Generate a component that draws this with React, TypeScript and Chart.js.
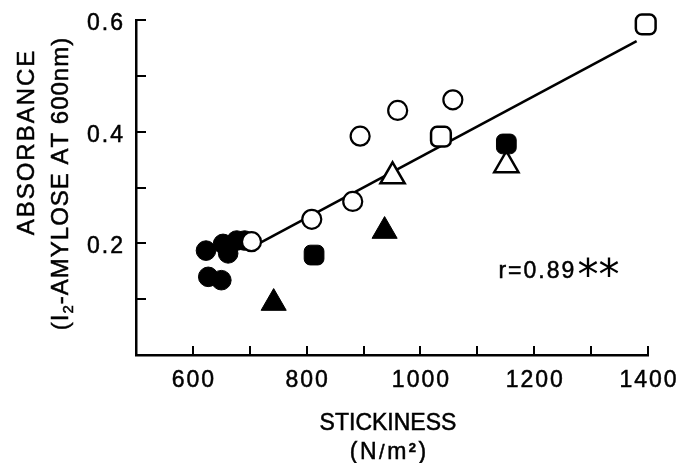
import React, { useEffect, useRef } from "react";
import { Chart, registerables } from "chart.js";

Chart.register(...registerables);

// ---- data (stickiness N/m², absorbance) ----
const filledCircles = [
  { x: 623, y: 0.187 },
  { x: 653, y: 0.199 },
  { x: 677, y: 0.205 },
  { x: 662, y: 0.182 },
  { x: 691, y: 0.205 },
  { x: 627, y: 0.14 },
  { x: 650, y: 0.134 },
];
const openCircles = [
  { x: 703, y: 0.203 },
  { x: 809, y: 0.243 },
  { x: 881, y: 0.275 },
  { x: 894, y: 0.392 },
  { x: 960, y: 0.438 },
  { x: 1057, y: 0.457 },
];
const openSquares = [
  { x: 1036, y: 0.391 },
  { x: 1396, y: 0.592 },
];
const filledSquares = [
  { x: 813, y: 0.179 },
  { x: 1151, y: 0.378 },
];
const openTriangles = [
  { x: 951, y: 0.32 },
  { x: 1151, y: 0.34 },
];
const filledTriangles = [
  { x: 742, y: 0.093 },
  { x: 937, y: 0.222 },
];
const regressionLine = [
  { x: 700, y: 0.191 },
  { x: 1380, y: 0.562 },
];

const xMinorTicks = [600, 700, 800, 900, 1000, 1100, 1200, 1300, 1400];
const xLabelValues = [600, 800, 1000, 1200, 1400];
const yMinorTicks = [0.1, 0.2, 0.3, 0.4, 0.5, 0.6];
const yLabelValues = [0.2, 0.4, 0.6];

const xTitle = "STICKINESS";
const yTitle1 = "ABSORBANCE";
const correlationText = "r=0.89";
const significance = "**";
const correlationPos = { x: 1137, y: 0.138 };

const FONT = "'Liberation Sans', Arial, sans-serif";

type Run = { t: string; font: string; dy: number };

function drawRuns(
  ctx: CanvasRenderingContext2D,
  runs: Run[],
  x: number,
  y: number,
  spacing: number,
  align: "center" | "left" | "right",
  stroke = 0.5
) {
  const items: { ch: string; font: string; dy: number; w: number }[] = [];
  let total = 0;
  for (const r of runs) {
    ctx.font = r.font;
    for (const ch of r.t) {
      const w = ctx.measureText(ch).width;
      items.push({ ch, font: r.font, dy: r.dy, w });
      total += w + spacing;
    }
  }
  total -= spacing;
  let cx = align === "center" ? x - total / 2 : align === "right" ? x - total : x;
  ctx.lineWidth = stroke;
  ctx.strokeStyle = "#000";
  for (const it of items) {
    ctx.font = it.font;
    ctx.fillText(it.ch, cx, y + it.dy);
    if (stroke > 0) ctx.strokeText(it.ch, cx, y + it.dy);
    cx += it.w + spacing;
  }
}

const decorPlugin = {
  id: "decor",
  afterDraw(chart: any) {
    const ctx: CanvasRenderingContext2D = chart.ctx;
    const { x, y } = chart.scales;
    const area = chart.chartArea;
    ctx.save();
    ctx.strokeStyle = "#000";
    ctx.lineWidth = 2;
    // inward tick marks
    for (const v of xMinorTicks) {
      const px = Math.round(x.getPixelForValue(v));
      ctx.beginPath();
      ctx.moveTo(px, area.bottom);
      ctx.lineTo(px, area.bottom - 9);
      ctx.stroke();
    }
    for (const v of yMinorTicks) {
      const py = Math.round(y.getPixelForValue(v));
      ctx.beginPath();
      ctx.moveTo(area.left, py);
      ctx.lineTo(area.left + 10, py);
      ctx.stroke();
    }

    ctx.fillStyle = "#000";
    ctx.textBaseline = "alphabetic";
    const tickFont = `23px ${FONT}`;
    // tick labels
    for (const v of xLabelValues) {
      drawRuns(ctx, [{ t: String(v), font: tickFont, dy: 0 }], x.getPixelForValue(v), area.bottom + 32, 2, "center");
    }
    for (const v of yLabelValues) {
      drawRuns(ctx, [{ t: v.toFixed(1), font: tickFont, dy: 0 }], area.left - 13, y.getPixelForValue(v) + 10, 2, "right");
    }

    const big = `23px ${FONT}`;
    // x title
    drawRuns(ctx, [{ t: xTitle, font: big, dy: 0 }], 388, 430, 0, "center");
    drawRuns(
      ctx,
      [
        { t: "(N", font: big, dy: 0 },
        { t: "/", font: `20px ${FONT}`, dy: 0 },
        { t: "m", font: big, dy: 0 },
        { t: "2", font: `bold 13px ${FONT}`, dy: -7 },
        { t: ")", font: big, dy: 0 },
      ],
      388,
      459,
      2.5,
      "center"
    );

    // y title (rotated)
    ctx.save();
    ctx.translate(34, 143);
    ctx.rotate(-Math.PI / 2);
    drawRuns(ctx, [{ t: yTitle1, font: `24px ${FONT}`, dy: 0 }], 0, 0, 2, "center");
    ctx.restore();

    ctx.save();
    ctx.translate(68, 184);
    ctx.rotate(-Math.PI / 2);
    drawRuns(
      ctx,
      [
        { t: "(I", font: `24px ${FONT}`, dy: 0 },
        { t: "2", font: `15px ${FONT}`, dy: 5 },
        { t: "-AMYLOSE AT 600nm)", font: `24px ${FONT}`, dy: 0 },
      ],
      0,
      0,
      1,
      "center"
    );
    ctx.restore();

    // correlation annotation
    const ax = x.getPixelForValue(correlationPos.x);
    const ay = y.getPixelForValue(correlationPos.y);
    drawRuns(ctx, [{ t: correlationText, font: `23px ${FONT}`, dy: 0 }], ax, ay, 2, "left");
    drawRuns(ctx, [{ t: significance, font: `42px 'DejaVu Sans', sans-serif`, dy: 11 }], ax + 79, ay, 0, "left", 0);

    ctx.restore();
  },
};

export default function App() {
  const ref = useRef<HTMLCanvasElement | null>(null);

  useEffect(() => {
    if (!ref.current) return;
    const pt = (
      data: { x: number; y: number }[],
      style: string,
      radius: number,
      fill: string,
      borderWidth: number
    ) => ({
      type: "scatter" as const,
      data,
      pointStyle: style,
      pointRadius: radius,
      pointBackgroundColor: fill,
      pointBorderColor: "#000",
      pointBorderWidth: borderWidth,
      clip: false,
    });

    const chart = new Chart(ref.current, {
      type: "scatter",
      data: {
        datasets: [
          pt(filledSquares, "rectRounded", 11.5, "#000", 1) as any,
          pt(openTriangles, "triangle", 14, "#fff", 2.5) as any,
          pt(openSquares, "rectRounded", 11.5, "#fff", 2.5) as any,
          pt(openCircles, "circle", 9.5, "#fff", 2.2) as any,
          pt(filledCircles, "circle", 9.8, "#000", 1) as any,
          pt(filledTriangles, "triangle", 14.5, "#000", 1) as any,
          {
            type: "line",
            data: regressionLine,
            borderColor: "#000",
            borderWidth: 2.6,
            pointRadius: 0,
            fill: false,
            clip: false,
          } as any,
        ],
      },
      options: {
        responsive: false,
        animation: false,
        devicePixelRatio: 1,
        layout: { padding: { left: 0, top: 20, right: 33, bottom: 0 } },
        plugins: {
          legend: { display: false },
          tooltip: { enabled: false },
        },
        scales: {
          x: {
            type: "linear",
            min: 500,
            max: 1400,
            grid: { display: false, drawTicks: false },
            border: { display: true, color: "#000", width: 2.5 },
            ticks: { display: false, stepSize: 100 },
            afterFit: (s: any) => {
              s.height = 108;
              s.paddingLeft = 0;
              s.paddingRight = 0;
            },
          },
          y: {
            type: "linear",
            min: 0,
            max: 0.6,
            grid: { display: false, drawTicks: false },
            border: { display: true, color: "#000", width: 2.5 },
            ticks: { display: false, stepSize: 0.1 },
            afterFit: (s: any) => {
              s.width = 136;
              s.paddingTop = 0;
              s.paddingBottom = 0;
            },
          },
        },
      },
      plugins: [decorPlugin],
    });
    return () => chart.destroy();
  }, []);

  return (
    <div
      style={{
        position: "fixed",
        left: 0,
        top: 0,
        width: 681,
        height: 463,
        background: "#fff",
      }}
    >
      <canvas ref={ref} width={681} height={463} />
    </div>
  );
}
